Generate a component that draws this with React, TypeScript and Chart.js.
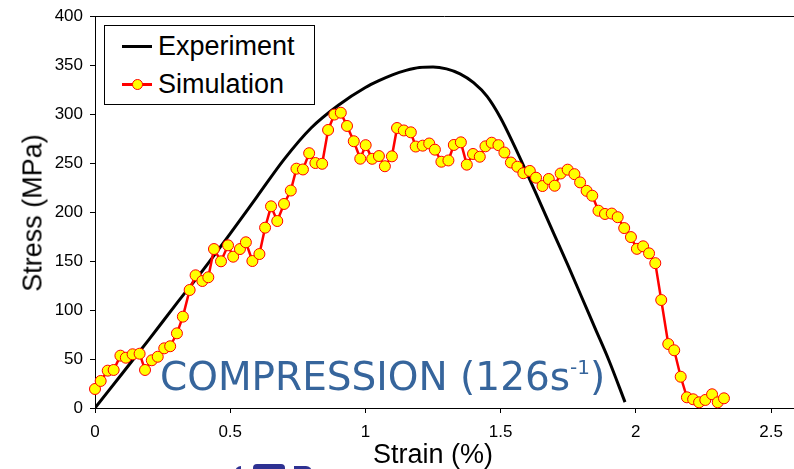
import React, { useEffect, useRef } from "react";
import { Chart, registerables } from "chart.js";

Chart.register(...registerables);

// Measured stress-strain curve (strain in %, stress in MPa)
const expStrain = [0, 0.1, 0.2, 0.3, 0.4, 0.5, 0.6, 0.7, 0.8, 0.9, 1.0, 1.05, 1.1, 1.15, 1.2, 1.25, 1.3, 1.35, 1.4, 1.45, 1.5, 1.55, 1.6, 1.65, 1.7, 1.75, 1.8, 1.85, 1.9, 1.96];
const expStress = [0, 35, 70, 106, 141, 178, 216, 254, 286, 309, 327, 334, 340, 344.5, 347.5, 348, 346, 341, 332, 318, 296, 268, 238, 207, 176, 145, 113, 81, 49, 6];

// Simulated response
const simStrain = [
  0, 0.021, 0.047, 0.069, 0.094, 0.114, 0.139, 0.165, 0.185, 0.21,
  0.232, 0.256, 0.278, 0.303, 0.325, 0.35, 0.372, 0.397, 0.419, 0.44,
  0.466, 0.492, 0.511, 0.536, 0.558, 0.582, 0.608, 0.629, 0.651, 0.674,
  0.699, 0.724, 0.745, 0.769, 0.792, 0.815, 0.84, 0.862, 0.885, 0.909,
  0.932, 0.957, 0.981, 1.001, 1.025, 1.05, 1.072, 1.098, 1.117, 1.142,
  1.168, 1.186, 1.212, 1.236, 1.257, 1.281, 1.307, 1.327, 1.353, 1.375,
  1.398, 1.423, 1.444, 1.467, 1.492, 1.514, 1.538, 1.562, 1.584, 1.608,
  1.631, 1.655, 1.678, 1.7, 1.722, 1.748, 1.773, 1.794, 1.818, 1.839,
  1.862, 1.886, 1.911, 1.933, 1.957, 1.982, 2.004, 2.027, 2.049, 2.072,
  2.094, 2.12, 2.142, 2.166, 2.189, 2.212, 2.234, 2.257, 2.282, 2.303,
  2.326,
];
const simStress = [
  19.4, 27.6, 38.1, 38.8, 53.4, 51.3, 54.8, 55.4, 38.8, 48.7,
  52.3, 60.9, 63.0, 76.2, 93.2, 120.4, 135.4, 129.6, 133.4, 162.2,
  149.7, 166.0, 154.4, 162.2, 169.1, 150.0, 157.1, 184.0, 205.8, 190.8,
  208.2, 221.9, 244.2, 243.4, 260.0, 250.0, 249.2, 283.7, 299.4, 301.3,
  287.8, 272.2, 254.4, 268.2, 254.3, 257.1, 246.7, 256.8, 285.7, 283.2,
  281.3, 266.8, 267.7, 269.9, 263.6, 251.3, 252.6, 268.4, 271.1, 248.3,
  259.2, 256.4, 267.0, 270.7, 268.2, 260.7, 250.5, 246.2, 239.6, 241.9,
  235.0, 226.5, 233.7, 226.8, 239.3, 243.2, 238.6, 230.2, 221.6, 216.6,
  201.3, 198.0, 198.4, 194.7, 183.6, 174.4, 162.4, 165.0, 157.8, 147.8,
  110.2, 65.3, 58.9, 31.9, 10.9, 8.9, 5.8, 8.2, 14.0, 5.8,
  9.9,
];

// Axis ranges (the strain axis runs on past its last labelled tick)
const xMin = 0;
const xMax = 2.585;
const xStep = 0.5;
const yMin = 0;
const yMax = 400;
const yStep = 50;

const seriesNames = ["Experiment", "Simulation"];
const xTitle = "Strain (%)";
const yTitle = "Stress (MPa)";

const tickFont = { family: "'Liberation Sans', Arial, sans-serif", size: 17 };
const labelFamily = "'Liberation Sans', Arial, sans-serif";

export default function App() {
  const canvasRef = useRef<HTMLCanvasElement | null>(null);

  useEffect(() => {
    const canvas = canvasRef.current;
    if (!canvas) return;
    const chart = new Chart(canvas, {
      type: "scatter",
      data: {
        datasets: [
          {
            label: seriesNames[0],
            data: expStrain.map((x, i) => ({ x, y: expStress[i] })),
            showLine: true,
            borderColor: "#000000",
            borderWidth: 3,
            pointRadius: 0,
            cubicInterpolationMode: "monotone",
            order: 2,
          },
          {
            label: seriesNames[1],
            data: simStrain.map((x, i) => ({ x, y: simStress[i] })),
            showLine: true,
            borderColor: "#FF0000",
            borderWidth: 2.5,
            pointRadius: 5.5,
            pointBackgroundColor: "#FFFF00",
            pointBorderColor: "#FF0000",
            pointBorderWidth: 1,
            tension: 0,
            clip: false,
            order: 1,
          },
        ],
      },
      options: {
        animation: false,
        responsive: false,
        maintainAspectRatio: false,
        events: [],
        layout: { autoPadding: false, padding: { top: 16, right: 0, left: 0, bottom: 0 } },
        plugins: {
          legend: { display: false },
          tooltip: { enabled: false },
        },
        scales: {
          x: {
            type: "linear",
            min: xMin,
            max: xMax,
            ticks: {
              stepSize: xStep,
              includeBounds: false,
              color: "#000",
              font: tickFont,
              padding: 9,
              callback: (v: any) => String(Number(v)),
            },
            grid: { drawOnChartArea: false, drawTicks: true, tickLength: 5, color: "#000" },
            border: { color: "#000", width: 1 },
            afterFit: (s: any) => {
              s.height = 61;
              s.paddingLeft = 0;
              s.paddingRight = 0;
            },
          },
          y: {
            type: "linear",
            min: yMin,
            max: yMax,
            ticks: { stepSize: yStep, color: "#000", font: tickFont, padding: 7 },
            grid: { drawOnChartArea: false, drawTicks: true, tickLength: 5, color: "#000" },
            border: { color: "#000", width: 1 },
            afterFit: (s: any) => {
              s.width = 95;
              s.paddingTop = 0;
              s.paddingBottom = 0;
            },
          },
        },
      },
      plugins: [
        {
          id: "frameTop",
          afterDraw: (c: any) => {
            const { ctx, chartArea } = c;
            ctx.save();
            ctx.strokeStyle = "#000";
            ctx.lineWidth = 1;
            ctx.beginPath();
            ctx.moveTo(chartArea.left, Math.round(chartArea.top) + 0.5);
            ctx.lineTo(chartArea.right, Math.round(chartArea.top) + 0.5);
            ctx.stroke();
            ctx.restore();
          },
        },
      ],
    });
    return () => chart.destroy();
  }, []);

  const logo = "#2E3192";

  return (
    <div style={{ position: "absolute", left: 0, top: 0, width: 794, height: 469, background: "#fff", overflow: "hidden" }}>
      <canvas ref={canvasRef} width={794} height={469} style={{ display: "block", width: 794, height: 469 }} />

      {/* legend */}
      <div
        style={{
          position: "absolute",
          left: 104,
          top: 25,
          width: 209,
          height: 78,
          border: "1px solid #000",
          background: "#fff",
          fontFamily: labelFamily,
          fontSize: 27,
          color: "#000",
        }}
      >
        <div style={{ position: "absolute", left: 17, top: 19, width: 30, height: 3, background: "#000" }} />
        <div style={{ position: "absolute", left: 53, top: 5, lineHeight: "31px", whiteSpace: "nowrap" }}>{seriesNames[0]}</div>
        <div style={{ position: "absolute", left: 17, top: 57, width: 30, height: 2.5, background: "#FF0000" }} />
        <div
          style={{
            position: "absolute",
            left: 26.5,
            top: 52.5,
            width: 11,
            height: 11,
            borderRadius: "50%",
            background: "#FFFF00",
            border: "1px solid #FF0000",
            boxSizing: "border-box",
          }}
        />
        <div style={{ position: "absolute", left: 53, top: 43, lineHeight: "31px", whiteSpace: "nowrap" }}>{seriesNames[1]}</div>
      </div>

      {/* load case label */}
      <div
        style={{
          position: "absolute",
          left: 160,
          top: 354,
          fontFamily: "'DejaVu Sans', Verdana, sans-serif",
          fontSize: 39,
          lineHeight: "46px",
          color: "#36659C",
          whiteSpace: "nowrap",
        }}
      >
        COMPRESSION (126s
        <span style={{ fontSize: 20, position: "relative", top: -16 }}>-1</span>)
      </div>

      {/* axis titles */}
      <div
        style={{
          position: "absolute",
          left: 433,
          top: 454,
          transform: "translate(-50%, -50%)",
          fontFamily: labelFamily,
          fontSize: 27,
          lineHeight: "31px",
          color: "#000",
          whiteSpace: "nowrap",
        }}
      >
        {xTitle}
      </div>
      <div
        style={{
          position: "absolute",
          left: 33,
          top: 213,
          transform: "translate(-50%, -50%) rotate(-90deg)",
          fontFamily: labelFamily,
          fontSize: 27,
          lineHeight: "31px",
          color: "#000",
          whiteSpace: "nowrap",
        }}
      >
        {yTitle}
      </div>

      {/* top edge of an emblem below the plot */}
      <div style={{ position: "absolute", left: 235, top: 466, width: 6, height: 6, background: logo, borderTopLeftRadius: 6 }} />
      <div style={{ position: "absolute", left: 253, top: 464, width: 32, height: 8, background: logo, borderTopLeftRadius: 4, borderTopRightRadius: 4 }} />
      <div style={{ position: "absolute", left: 294, top: 466, width: 18, height: 6, background: logo, borderTopRightRadius: 8 }} />
    </div>
  );
}
